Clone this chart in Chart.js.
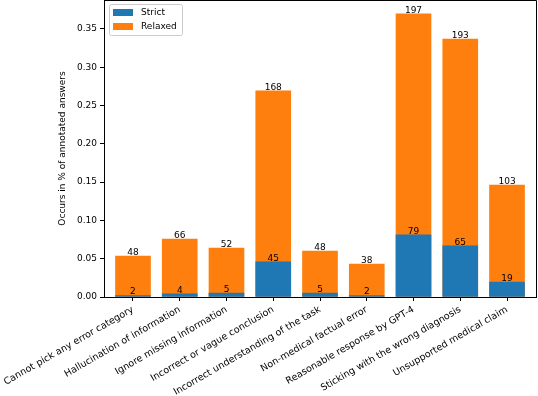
<!DOCTYPE html>
<html>
<head>
<meta charset="utf-8">
<script src="https://cdn.jsdelivr.net/npm/chart.js@4.4.1/dist/chart.umd.min.js"></script>
<style>
  body { margin: 0; background: #fff; }
</style>
</head>
<body>
<canvas id="errorChart" width="538" height="396"></canvas>
<script>
const categories = [
  "Cannot pick any error category",
  "Hallucination of information",
  "Ignore missing information",
  "Incorrect or vague conclusion",
  "Incorrect understanding of the task",
  "Non-medical factual error",
  "Reasonable response by GPT-4",
  "Sticking with the wrong diagnosis",
  "Unsupported medical claim",
];

// share of annotated answers
const strictValues = [0.002, 0.004, 0.005, 0.046, 0.005, 0.002, 0.081, 0.0667, 0.0195];
const relaxedValues = [0.0535, 0.0757, 0.064, 0.269, 0.06, 0.043, 0.3695, 0.3368, 0.1462];

// counts printed above the bars
const strictCounts = [2, 4, 5, 45, 5, 2, 79, 65, 19];
const relaxedCounts = [48, 66, 52, 168, 48, 38, 197, 193, 103];

const yTicks = [0, 0.05, 0.1, 0.15, 0.2, 0.25, 0.3, 0.35];

const FONT = "DejaVu Sans";

// counts on top of each bar
const barLabels = {
  id: "barLabels",
  afterDatasetsDraw(chart) {
    const ctx = chart.ctx;
    const counts = [strictCounts, relaxedCounts];
    ctx.save();
    ctx.font = "9px '" + FONT + "'";
    ctx.fillStyle = "#000";
    ctx.textAlign = "center";
    ctx.textBaseline = "bottom";
    chart.data.datasets.forEach((ds, d) => {
      chart.getDatasetMeta(d).data.forEach((bar, i) => {
        ctx.fillText(counts[d][i], bar.x, bar.y + 1);
      });
    });
    ctx.restore();
  },
};

// right/top spines and the boxed legend in the upper left
const frameAndLegend = {
  id: "frameAndLegend",
  afterDraw(chart) {
    const ctx = chart.ctx;
    const area = chart.chartArea;
    ctx.save();
    ctx.strokeStyle = "#000";
    ctx.lineWidth = 1;
    ctx.beginPath();
    ctx.moveTo(area.left, area.top + 0.5);
    ctx.lineTo(area.right + 0.5, area.top + 0.5);
    ctx.lineTo(area.right + 0.5, area.bottom);
    ctx.stroke();

    const x = area.left + 5, y = area.top + 4;
    const w = 73, h = 31;
    ctx.fillStyle = "rgba(255,255,255,0.8)";
    ctx.strokeStyle = "#cccccc";
    ctx.beginPath();
    ctx.roundRect(x + 0.5, y + 0.5, w, h, 2);
    ctx.fill();
    ctx.stroke();

    ctx.font = "9px '" + FONT + "'";
    ctx.textBaseline = "middle";
    ctx.textAlign = "left";
    chart.data.datasets.forEach((ds, d) => {
      const rowY = y + 8.5 + d * 14;
      ctx.fillStyle = ds.backgroundColor;
      ctx.fillRect(x + 4, rowY - 3.5, 20, 7);
      ctx.fillStyle = "#000";
      ctx.fillText(ds.label, x + 32, rowY);
    });
    ctx.restore();
  },
};

new Chart(document.getElementById("errorChart"), {
  type: "bar",
  data: {
    datasets: [
      {
        label: "Strict",
        data: strictValues.map((v, i) => ({ x: i, y: v })),
        backgroundColor: "#1f77b4",
        barThickness: 35,
        grouped: false,
      },
      {
        label: "Relaxed",
        data: relaxedValues.map((v, i) => ({ x: i, y: v })),
        backgroundColor: "#ff7f0e",
        barThickness: 35,
        grouped: false,
      },
    ],
  },
  options: {
    responsive: false,
    animation: false,
    layout: { padding: { left: 0, right: 2, top: 0, bottom: 0 } },
    plugins: {
      legend: { display: false },
      tooltip: { enabled: false },
    },
    scales: {
      x: {
        type: "linear",
        min: -0.62,
        max: 8.62,
        offset: false,
        afterBuildTicks: (scale) => {
          scale.ticks = categories.map((_, i) => ({ value: i }));
        },
        afterFit: (scale) => {
          scale.paddingLeft = 0;
          scale.paddingRight = 0;
          scale.height = 99;
        },
        ticks: {
          autoSkip: false,
          minRotation: 30,
          maxRotation: 30,
          padding: 3,
          color: "#000",
          font: { family: FONT, size: 9.5 },
          callback: (v) => categories[v],
        },
        grid: {
          drawOnChartArea: false,
          drawTicks: true,
          tickLength: 4,
          color: "#000",
          offset: false,
        },
        border: { display: true, color: "#000" },
      },
      y: {
        min: 0,
        max: 0.3877,
        afterBuildTicks: (scale) => {
          scale.ticks = yTicks.map((v) => ({ value: v }));
        },
        afterFit: (scale) => {
          scale.paddingTop = 0;
          scale.width = 104;
        },
        ticks: {
          padding: 3,
          color: "#000",
          font: { family: FONT, size: 9 },
          callback: (v) => v.toFixed(2),
        },
        grid: {
          drawOnChartArea: false,
          drawTicks: true,
          tickLength: 4,
          color: "#000",
        },
        border: { display: true, color: "#000" },
        title: {
          display: true,
          text: "Occurs in % of annotated answers",
          color: "#000",
          font: { family: FONT, size: 9 },
          padding: { top: 57, bottom: 0 },
        },
      },
    },
  },
  plugins: [barLabels, frameAndLegend],
});
</script>
</body>
</html>
